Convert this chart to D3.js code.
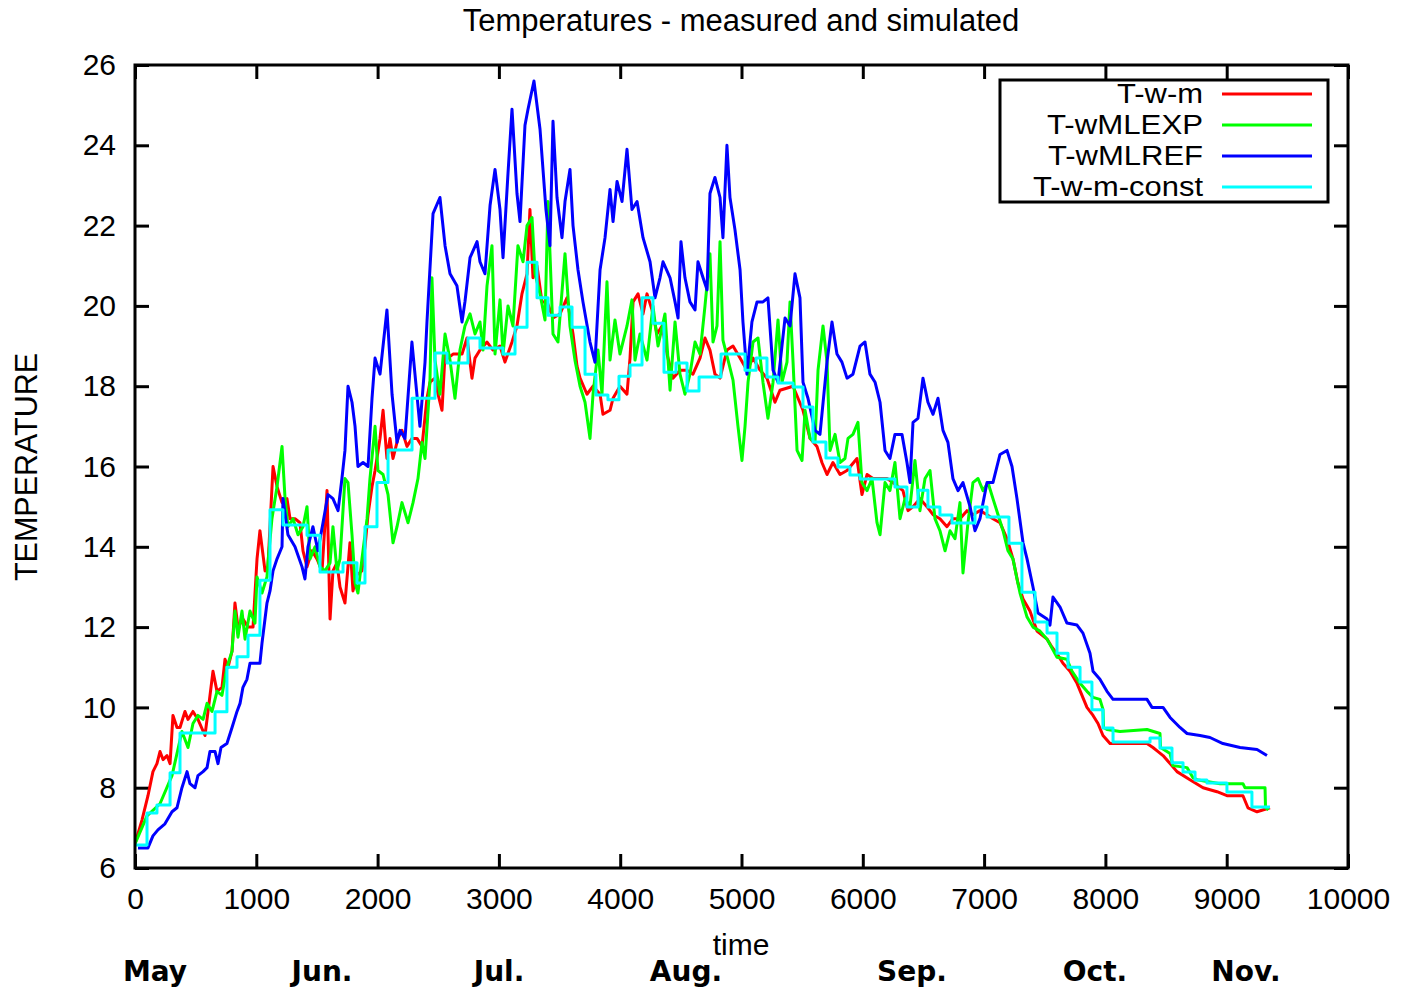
<!DOCTYPE html>
<html><head><meta charset="utf-8">
<script src="https://cdn.jsdelivr.net/npm/d3@7"></script>
<style>body{margin:0;background:#fff}</style>
</head><body>
<svg id="c" width="1402" height="989"></svg>
<script>
// ---------- data ----------
const xTicks = [0,1000,2000,3000,4000,5000,6000,7000,8000,9000,10000];
const yTicks = [6,8,10,12,14,16,18,20,22,24,26];
const seriesNames = ["T-w-m","T-wMLEXP","T-wMLREF","T-w-m-const"];
const seriesColors = ["#ff0000","#00ff00","#0000ff","#00ffff"];
const months = ["May","Jun.","Jul.","Aug.","Sep.","Oct.","Nov."];
const monthTime = [165,1542,3001,4542,6405,7914,9159];

// T-w-m (measured)
const tWm = [[0,6.6],[58,7.2],[107,7.8],[148,8.4],[181,8.6],[206,8.9],[231,8.7],[264,8.8],[289,8.6],[313,9.8],[346,9.5],[371,9.5],[412,9.9],[437,9.7],[478,9.9],[519,9.7],[577,9.3],[602,9.9],[643,10.9],[676,10.4],[717,10.5],[742,11.2],[767,11.0],[800,11.4],[824,12.6],[849,12.0],[890,12.2],[932,12.0],[973,12.0],[1006,13.7],[1030,14.4],[1072,13.4],[1096,13.5],[1138,16.0],[1171,15.5],[1212,15.1],[1253,15.2],[1278,14.7],[1319,14.7],[1360,14.6],[1385,13.9],[1418,13.5],[1459,13.9],[1500,13.7],[1542,13.4],[1583,15.4],[1608,12.2],[1632,13.4],[1665,13.6],[1690,13.0],[1731,12.6],[1772,14.1],[1797,12.9],[1830,13.3],[1871,13.4],[1896,14.0],[1921,14.8],[1954,15.5],[1979,15.9],[2020,16.7],[2045,17.4],[2077,16.2],[2102,16.7],[2127,16.2],[2168,16.7],[2201,16.9],[2242,16.5],[2284,16.7],[2325,16.7],[2366,16.5],[2407,17.7],[2432,18.1],[2473,18.2],[2498,17.8],[2531,17.4],[2556,18.8],[2580,18.7],[2622,18.8],[2696,18.8],[2737,19.2],[2778,18.2],[2803,18.7],[2844,18.9],[2902,19.1],[2951,18.9],[3009,19.0],[3050,18.6],[3108,19.1],[3149,19.5],[3190,20.3],[3232,20.8],[3256,22.4],[3281,20.7],[3314,21.0],[3355,20.1],[3397,20.1],[3446,19.7],[3504,19.8],[3561,20.2],[3611,19.3],[3644,18.5],[3669,18.2],[3726,17.8],[3776,18.0],[3834,17.8],[3858,17.3],[3916,17.4],[3941,17.7],[3998,18.0],[4056,17.8],[4081,18.7],[4106,20.1],[4147,20.3],[4188,19.8],[4221,20.3],[4262,19.9],[4303,19.3],[4345,19.5],[4386,18.8],[4435,18.2],[4493,18.4],[4551,18.4],[4600,18.3],[4658,18.7],[4699,19.2],[4740,18.9],[4781,18.3],[4823,18.2],[4880,18.9],[4930,19.0],[4988,18.7],[5045,18.4],[5095,18.7],[5153,18.4],[5210,18.2],[5276,17.6],[5317,17.9],[5425,18.0],[5466,17.7],[5507,17.4],[5565,16.7],[5622,16.5],[5663,16.1],[5705,15.8],[5754,16.1],[5812,15.8],[5870,15.9],[5952,16.2],[5993,15.3],[6035,15.8],[6084,15.7],[6125,15.7],[6200,15.7],[6249,15.6],[6331,15.4],[6373,14.9],[6414,15.0],[6471,15.2],[6529,15.0],[6579,14.8],[6636,14.7],[6694,14.5],[6743,14.7],[6801,14.7],[6859,14.9],[6908,14.8],[6966,14.9],[7024,14.8],[7073,14.7],[7131,14.6],[7189,14.2],[7238,13.7],[7279,13.1],[7321,12.7],[7378,12.4],[7436,11.9],[7519,11.7],[7560,11.5],[7609,11.3],[7650,11.1],[7708,10.9],[7766,10.6],[7807,10.3],[7848,10.0],[7898,9.8],[7939,9.6],[7980,9.3],[8038,9.1],[8120,9.1],[8228,9.1],[8343,9.1],[8392,9.0],[8434,8.9],[8475,8.8],[8533,8.6],[8590,8.4],[8697,8.2],[8805,8.0],[8920,7.9],[9002,7.8],[9134,7.8],[9175,7.5],[9250,7.4],[9357,7.5]];

// T-wMLEXP
const tWMLEXP = [[0,6.6],[99,7.3],[206,7.6],[305,8.3],[387,9.4],[437,9.0],[478,9.6],[519,9.8],[561,9.7],[594,10.1],[635,9.9],[676,10.4],[717,10.3],[758,11.0],[800,11.4],[824,12.4],[849,11.75],[882,12.4],[907,11.7],[948,12.4],[989,12.1],[1006,13.25],[1047,12.85],[1088,13.25],[1096,13.6],[1129,14.7],[1171,15.5],[1212,16.5],[1237,15.2],[1261,14.5],[1303,14.7],[1344,14.3],[1385,14.5],[1418,15.0],[1443,13.7],[1484,14.0],[1525,13.5],[1566,13.4],[1608,13.6],[1632,14.5],[1665,13.4],[1690,13.7],[1731,15.7],[1756,15.6],[1789,14.3],[1814,13.1],[1838,12.85],[1871,13.7],[1913,14.7],[1937,15.7],[1979,17.0],[2003,15.9],[2045,15.8],[2086,15.3],[2127,14.1],[2160,14.5],[2201,15.1],[2251,14.6],[2292,15.1],[2333,15.7],[2366,16.6],[2391,16.2],[2432,18.15],[2448,20.7],[2473,18.65],[2514,17.8],[2556,19.3],[2597,18.65],[2638,17.7],[2679,18.9],[2720,19.5],[2762,19.8],[2803,19.3],[2844,19.6],[2869,18.9],[2902,20.5],[2943,21.5],[2968,18.8],[3009,20.15],[3034,18.8],[3075,20.0],[3116,19.5],[3157,21.5],[3199,21.1],[3232,22.0],[3273,22.2],[3298,20.8],[3339,20.3],[3380,19.65],[3405,22.6],[3446,19.3],[3487,19.1],[3545,21.3],[3586,19.5],[3627,18.65],[3669,18.0],[3710,17.6],[3751,16.7],[3776,17.8],[3817,18.9],[3850,17.8],[3891,20.6],[3916,18.65],[3957,19.65],[3998,18.8],[4056,19.5],[4097,20.15],[4122,18.65],[4163,19.3],[4221,18.65],[4270,20.0],[4312,19.0],[4369,19.8],[4411,17.9],[4452,19.6],[4493,18.3],[4534,17.8],[4575,18.3],[4617,19.1],[4658,18.8],[4699,20.0],[4740,21.3],[4765,19.1],[4798,19.5],[4823,21.6],[4847,19.15],[4889,18.65],[4930,18.15],[4971,17.0],[5004,16.15],[5029,17.0],[5054,18.1],[5095,19.1],[5136,19.2],[5177,18.1],[5218,17.2],[5260,18.1],[5301,19.65],[5334,18.1],[5375,18.6],[5400,20.1],[5425,18.6],[5458,16.4],[5499,16.15],[5524,17.4],[5565,16.7],[5606,16.6],[5631,18.4],[5672,19.5],[5705,18.6],[5730,16.4],[5771,16.8],[5812,16.1],[5853,16.2],[5878,16.7],[5919,16.8],[5960,17.1],[5993,15.6],[6035,15.4],[6076,15.7],[6117,14.6],[6142,14.3],[6183,15.6],[6224,15.4],[6265,16.1],[6307,14.7],[6348,15.2],[6389,15.0],[6430,16.15],[6471,14.9],[6513,15.7],[6554,15.9],[6595,14.7],[6636,14.4],[6678,13.9],[6719,14.4],[6760,14.2],[6801,15.1],[6826,13.35],[6867,14.6],[6908,15.6],[6950,15.7],[6991,15.4],[7032,15.6],[7073,15.2],[7115,14.8],[7156,14.4],[7197,13.9],[7238,13.7],[7271,13.2],[7296,12.85],[7354,12.25],[7403,12.0],[7461,11.9],[7519,11.7],[7601,11.25],[7683,11.2],[7725,10.9],[7791,10.6],[7848,10.4],[7898,10.25],[7955,10.2],[7980,9.95],[7985,9.5],[8013,9.45],[8120,9.4],[8343,9.45],[8450,9.35],[8455,9.0],[8533,8.85],[8557,8.55],[8673,8.5],[8722,8.25],[8755,8.2],[8945,8.1],[9134,8.1],[9150,8.0],[9316,8.0],[9320,7.5],[9345,7.45]];

// T-wMLREF
const tWMLREF = [[25,6.5],[107,6.5],[148,6.8],[189,6.95],[247,7.1],[305,7.4],[346,7.5],[387,8.0],[429,8.4],[453,8.1],[495,8.0],[519,8.3],[561,8.4],[594,8.5],[618,8.9],[660,8.9],[684,8.6],[709,9.0],[758,9.1],[800,9.5],[841,9.9],[866,10.1],[890,10.5],[923,10.7],[948,11.1],[989,11.1],[1030,11.1],[1047,11.6],[1088,12.6],[1113,12.9],[1138,13.4],[1171,13.7],[1212,14.0],[1220,15.2],[1261,14.3],[1319,14.0],[1377,13.5],[1401,13.2],[1426,14.0],[1467,14.5],[1508,13.9],[1550,14.6],[1591,15.3],[1632,15.2],[1674,14.9],[1706,15.7],[1731,16.4],[1756,18.0],[1789,17.6],[1814,17.0],[1838,16.0],[1880,16.1],[1921,16.0],[1954,17.7],[1979,18.7],[2020,18.3],[2077,19.9],[2119,17.8],[2160,16.6],[2185,16.9],[2226,16.7],[2283,19.1],[2349,17.0],[2391,18.6],[2407,19.6],[2457,22.3],[2514,22.7],[2556,21.5],[2597,20.8],[2654,20.5],[2696,19.6],[2720,20.1],[2762,21.2],[2820,21.6],[2844,21.1],[2885,20.8],[2927,22.5],[2968,23.4],[3009,22.4],[3034,21.2],[3075,23.3],[3108,24.9],[3149,22.8],[3174,22.1],[3215,24.5],[3240,24.9],[3289,25.6],[3339,24.4],[3388,22.4],[3421,21.5],[3446,24.6],[3479,22.7],[3520,21.7],[3545,22.6],[3586,23.4],[3611,22.0],[3652,20.9],[3693,20.1],[3751,19.1],[3792,18.6],[3834,20.9],[3875,21.7],[3916,22.9],[3941,22.1],[3974,23.1],[4015,22.6],[4056,23.9],[4097,22.4],[4139,22.6],[4188,21.7],[4246,21.1],[4287,20.2],[4328,20.7],[4353,21.1],[4411,20.7],[4452,20.1],[4477,19.7],[4501,21.6],[4534,20.7],[4575,20.1],[4617,19.9],[4641,21.1],[4683,20.7],[4716,20.4],[4740,22.8],[4781,23.2],[4823,22.7],[4847,21.7],[4880,24.0],[4905,22.7],[4946,21.9],[4988,20.9],[5012,19.6],[5045,18.3],[5086,19.6],[5128,20.1],[5177,20.1],[5218,20.2],[5260,18.4],[5301,18.1],[5359,19.7],[5400,19.5],[5441,20.8],[5482,20.2],[5507,18.1],[5548,17.7],[5606,16.9],[5647,16.8],[5705,18.6],[5746,19.6],[5787,18.8],[5828,18.6],[5870,18.2],[5919,18.3],[5977,19.0],[6018,19.1],[6059,18.3],[6101,18.1],[6142,17.6],[6183,16.4],[6224,16.2],[6265,16.8],[6323,16.8],[6364,16.1],[6389,15.6],[6414,17.1],[6455,17.2],[6496,18.2],[6537,17.6],[6579,17.3],[6620,17.7],[6661,16.9],[6702,16.6],[6743,15.7],[6785,15.4],[6826,15.6],[6884,15.0],[6925,14.4],[6966,14.7],[7024,15.6],[7073,15.6],[7131,16.3],[7189,16.4],[7230,16.0],[7271,15.2],[7321,14.1],[7354,13.7],[7403,13.0],[7444,12.35],[7519,12.2],[7543,12.05],[7568,12.75],[7626,12.5],[7683,12.1],[7766,12.05],[7815,11.85],[7873,11.35],[7898,10.9],[7955,10.7],[8013,10.4],[8063,10.2],[8178,10.2],[8343,10.2],[8384,10.0],[8475,10.0],[8533,9.75],[8615,9.5],[8673,9.35],[8780,9.3],[8862,9.25],[8969,9.1],[9110,9.0],[9250,8.95],[9332,8.8]];

// T-w-m-const (step series)
const constTime = [0,99,181,289,371,660,758,841,932,1030,1113,1220,1418,1525,1715,1830,1896,1995,2086,2284,2473,2572,2745,2844,3034,3133,3232,3314,3405,3504,3603,3710,3800,3899,3990,4081,4180,4270,4361,4460,4551,4650,4831,5029,5120,5210,5301,5425,5507,5589,5696,5795,5894,5977,6265,6364,6455,6537,6636,6735,6925,7024,7205,7312,7420,7519,7601,7692,7791,7889,7980,8063,8368,8450,8549,8640,8739,8837,9002,9208,9357];
const constValue = [6.57,7.37,7.57,8.37,9.36,9.89,11.0,11.26,11.8,13.17,14.92,14.54,14.29,13.37,13.6,13.1,14.5,15.6,16.41,17.7,18.83,18.58,19.2,18.95,18.8,19.47,21.09,20.2,19.77,19.97,19.47,18.3,17.78,17.66,18.25,18.53,20.2,19.57,18.35,18.58,17.88,18.23,18.8,18.4,18.7,18.23,18.08,17.98,17.48,16.61,16.21,15.99,15.79,15.69,15.49,14.99,15.41,14.99,14.79,14.59,14.99,14.74,14.09,12.87,12.13,11.85,11.35,11.0,10.63,9.94,9.49,9.14,9.24,8.99,8.62,8.39,8.19,8.12,7.89,7.52,7.52];

// ---------- drawing ----------
const L = 135, R = 1348, T = 65, B = 868;
const svg = d3.select("#c");
const x = d3.scaleLinear().domain([0, 10000]).range([L, R]);
const y = d3.scaleLinear().domain([6, 26]).range([B, T]);
const FONT = "'Liberation Sans', Arial, sans-serif";

svg.append("defs").append("clipPath").attr("id","clip")
  .append("rect").attr("x",L).attr("y",T).attr("width",R-L).attr("height",B-T);

function styleAxis(g, withText){
  g.select(".domain").remove();
  g.selectAll(".tick line").attr("stroke","#000").attr("stroke-width",3);
  g.selectAll(".tick text").attr("font-family",FONT).attr("font-size","30px").attr("fill","#000");
  if(!withText) g.selectAll(".tick text").remove();
}
svg.append("g").attr("transform",`translate(0,${B})`)
  .call(d3.axisBottom(x).tickValues(xTicks).tickSizeInner(-14).tickSizeOuter(0).tickPadding(20).tickFormat(d3.format("d")))
  .call(g=>styleAxis(g,true));
svg.append("g").attr("transform",`translate(0,${T})`)
  .call(d3.axisTop(x).tickValues(xTicks).tickSizeInner(-14).tickSizeOuter(0))
  .call(g=>styleAxis(g,false));
svg.append("g").attr("transform",`translate(${L},0)`)
  .call(d3.axisLeft(y).tickValues(yTicks).tickSizeInner(-14).tickSizeOuter(0).tickPadding(19).tickFormat(d3.format("d")))
  .call(g=>styleAxis(g,true));
svg.append("g").attr("transform",`translate(${R},0)`)
  .call(d3.axisRight(y).tickValues(yTicks).tickSizeInner(-14).tickSizeOuter(0))
  .call(g=>styleAxis(g,false));

const constData = d3.zip(constTime, constValue);
const allSeries = [tWm, tWMLEXP, tWMLREF, constData];
const plot = svg.append("g").attr("clip-path","url(#clip)");
const lineLin = d3.line().x(d=>x(d[0])).y(d=>y(d[1]));
const lineStep = d3.line().x(d=>x(d[0])).y(d=>y(d[1])).curve(d3.curveStepAfter);
allSeries.forEach((s,i)=>{
  plot.append("path").datum(s)
    .attr("d", i===3 ? lineStep : lineLin)
    .attr("fill","none").attr("stroke",seriesColors[i])
    .attr("stroke-width", 3)
    .attr("stroke-linejoin","round");
});

// frame
svg.append("rect").attr("x",L).attr("y",T).attr("width",R-L).attr("height",B-T)
  .attr("fill","none").attr("stroke","#000").attr("stroke-width",3);

// legend
const legendWidths = [86,156,155,170];
const lg = svg.append("g");
lg.append("rect").attr("x",1000).attr("y",80).attr("width",328).attr("height",122)
  .attr("fill","#fff").attr("stroke","#000").attr("stroke-width",3);
seriesNames.forEach((n,i)=>{
  const by = 103 + i*31;
  lg.append("text").attr("x",1203).attr("y",by).attr("text-anchor","end")
    .attr("font-family",FONT).attr("font-size","27px").attr("fill","#000")
    .attr("textLength",legendWidths[i]).attr("lengthAdjust","spacingAndGlyphs").text(n);
  lg.append("line").attr("x1",1222).attr("x2",1312).attr("y1",by-9).attr("y2",by-9)
    .attr("stroke",seriesColors[i]).attr("stroke-width",3);
});

// titles
svg.append("text").attr("x",741).attr("y",31).attr("text-anchor","middle")
  .attr("font-family",FONT).attr("font-size","31px").attr("fill","#000")
  .text("Temperatures - measured and simulated");
svg.append("text").attr("transform","translate(37,467) rotate(-90)").attr("text-anchor","middle")
  .attr("font-family",FONT).attr("font-size","30.5px").attr("fill","#000").text("TEMPERATURE");
svg.append("text").attr("x",741).attr("y",955).attr("text-anchor","middle")
  .attr("font-family",FONT).attr("font-size","30px").attr("fill","#000").text("time");

months.forEach((m,i)=>{
  svg.append("text").attr("x",x(monthTime[i])).attr("y",981).attr("text-anchor","middle")
    .attr("font-family","'DejaVu Sans', sans-serif").attr("font-weight","bold")
    .attr("font-size","28px").attr("fill","#000").text(m);
});
</script>
</body></html>
